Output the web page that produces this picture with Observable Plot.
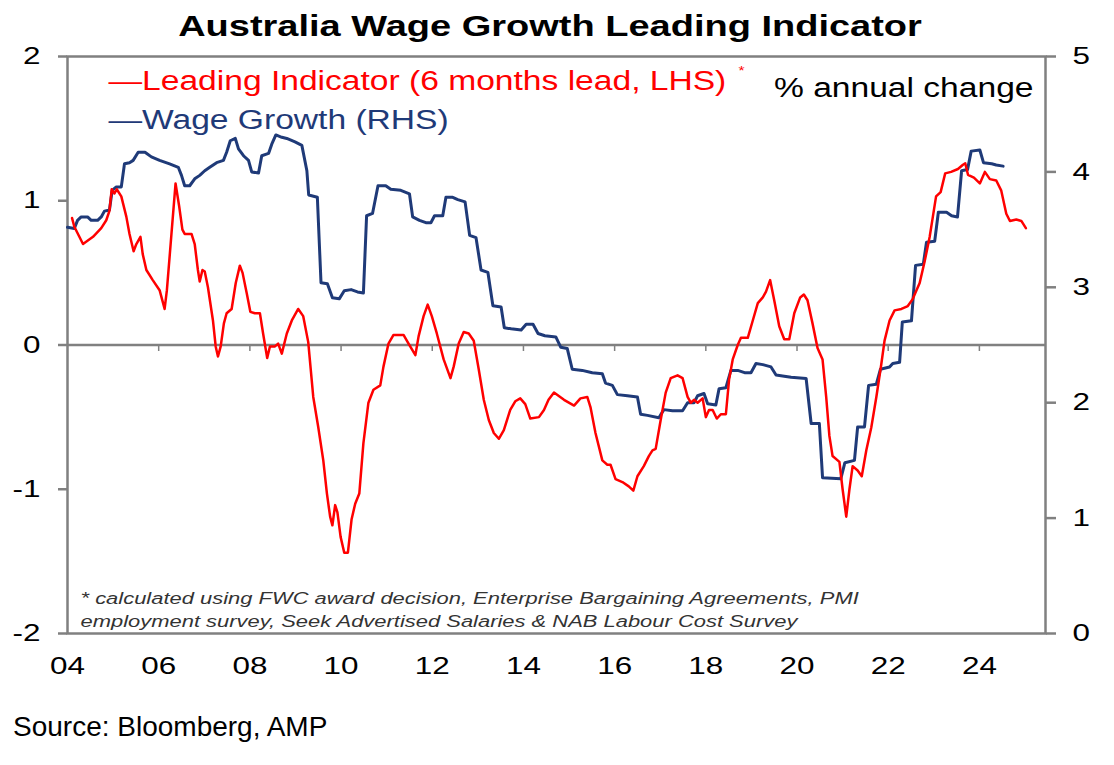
<!DOCTYPE html>
<html>
<head>
<meta charset="utf-8">
<script src="https://cdn.jsdelivr.net/npm/d3@7"></script>
<script src="https://cdn.jsdelivr.net/npm/@observablehq/plot@0.6"></script>
<style>
  body { margin: 0; background: #fff; width: 1114px; height: 765px; overflow: hidden;
         font-family: "Liberation Sans", Arial, sans-serif; }
  #title { position: relative; height: 40px; }
  #title span { position: absolute; left: -7px; width: 1114px; top: 12px; line-height: 29px;
                text-align: center; font-weight: bold; font-size: 29px; color: #000;
                transform: scaleX(1.31); transform-origin: 557px 0; white-space: nowrap; }
  #chart svg { display: block; overflow: visible; }
  #source { margin-top: 28px; padding-left: 13px; font-size: 28px; line-height: 28px; color: #000; }
</style>
</head>
<body>
<div id="title"><span>Australia Wage Growth Leading Indicator</span></div>
<div id="chart"></div>
<div id="source">Source: Bloomberg, AMP</div>
<script>
// ---- data (decimal years) ----
const leadYears = [2004.10,2004.15,2004.34,2004.56,2004.74,2004.85,2004.92,2004.97,2005.03,2005.08,2005.18,2005.29,2005.36,2005.45,2005.51,2005.60,2005.65,2005.73,2005.87,2006.02,2006.13,2006.18,2006.28,2006.37,2006.45,2006.52,2006.57,2006.72,2006.79,2006.86,2006.90,2006.96,2007.01,2007.08,2007.19,2007.25,2007.30,2007.36,2007.43,2007.49,2007.60,2007.69,2007.78,2007.84,2007.93,2008.01,2008.11,2008.22,2008.29,2008.38,2008.44,2008.55,2008.62,2008.70,2008.81,2008.92,2009.06,2009.17,2009.28,2009.39,2009.50,2009.61,2009.69,2009.76,2009.81,2009.87,2009.92,2009.99,2010.07,2010.15,2010.23,2010.31,2010.40,2010.49,2010.60,2010.71,2010.86,2010.93,2011.04,2011.15,2011.37,2011.48,2011.63,2011.70,2011.81,2011.90,2011.99,2012.10,2012.25,2012.40,2012.47,2012.58,2012.69,2012.80,2012.91,2013.02,2013.13,2013.24,2013.35,2013.46,2013.57,2013.71,2013.82,2013.93,2014.04,2014.15,2014.34,2014.45,2014.55,2014.67,2014.89,2015.11,2015.25,2015.40,2015.47,2015.58,2015.73,2015.84,2015.91,2016.02,2016.17,2016.31,2016.41,2016.50,2016.64,2016.75,2016.83,2016.90,2017.01,2017.12,2017.23,2017.38,2017.49,2017.60,2017.67,2017.74,2017.82,2017.93,2018.00,2018.07,2018.15,2018.24,2018.33,2018.44,2018.51,2018.59,2018.70,2018.77,2018.92,2019.03,2019.14,2019.25,2019.32,2019.41,2019.50,2019.61,2019.72,2019.83,2019.94,2020.07,2020.15,2020.23,2020.34,2020.45,2020.56,2020.64,2020.71,2020.78,2020.93,2021.00,2021.08,2021.15,2021.22,2021.33,2021.42,2021.52,2021.63,2021.74,2021.85,2021.92,2022.03,2022.14,2022.29,2022.43,2022.54,2022.69,2022.80,2022.91,2022.98,2023.05,2023.15,2023.25,2023.38,2023.53,2023.64,2023.69,2023.75,2023.88,2024.01,2024.12,2024.23,2024.37,2024.48,2024.59,2024.67,2024.81,2024.92,2025.02];
const leadValues = [0.88,0.82,0.70,0.75,0.81,0.865,0.93,1.08,1.05,1.08,1.03,0.89,0.77,0.65,0.70,0.75,0.63,0.52,0.45,0.38,0.25,0.38,0.77,1.12,0.96,0.80,0.77,0.77,0.70,0.52,0.44,0.52,0.51,0.40,0.17,-0.01,-0.08,-0.01,0.15,0.22,0.25,0.43,0.55,0.50,0.36,0.23,0.22,0.22,0.08,-0.09,-0.01,-0.01,0.01,-0.06,0.08,0.17,0.25,0.20,0.02,-0.36,-0.57,-0.80,-1.03,-1.19,-1.25,-1.11,-1.16,-1.33,-1.44,-1.44,-1.21,-1.10,-1.03,-0.68,-0.40,-0.31,-0.28,-0.15,0.01,0.07,0.07,0.01,-0.07,0.06,0.20,0.28,0.20,0.08,-0.10,-0.23,-0.15,0.01,0.09,0.08,0.03,-0.17,-0.38,-0.52,-0.61,-0.65,-0.59,-0.45,-0.39,-0.37,-0.41,-0.51,-0.50,-0.45,-0.38,-0.33,-0.38,-0.42,-0.37,-0.36,-0.43,-0.61,-0.80,-0.83,-0.83,-0.93,-0.95,-0.98,-1.01,-0.91,-0.84,-0.77,-0.73,-0.72,-0.52,-0.33,-0.23,-0.21,-0.23,-0.36,-0.40,-0.38,-0.40,-0.37,-0.50,-0.45,-0.45,-0.51,-0.48,-0.48,-0.24,-0.10,0.00,0.05,0.05,0.17,0.29,0.33,0.37,0.45,0.31,0.13,0.04,0.04,0.22,0.33,0.35,0.31,0.15,-0.02,-0.10,-0.36,-0.63,-0.77,-0.81,-1.00,-1.19,-1.00,-0.84,-0.87,-0.91,-0.73,-0.57,-0.36,-0.13,0.03,0.17,0.24,0.25,0.27,0.32,0.43,0.58,0.75,0.89,1.03,1.06,1.19,1.20,1.22,1.25,1.26,1.18,1.16,1.12,1.20,1.15,1.14,1.07,0.91,0.86,0.87,0.86,0.81];

const wageYears = [2004.00,2004.15,2004.22,2004.30,2004.44,2004.52,2004.66,2004.74,2004.81,2004.92,2004.98,2005.07,2005.18,2005.25,2005.36,2005.44,2005.55,2005.70,2005.84,2006.02,2006.24,2006.43,2006.50,2006.57,2006.68,2006.79,2006.90,2007.01,2007.12,2007.27,2007.42,2007.49,2007.57,2007.68,2007.75,2007.86,2007.97,2008.04,2008.19,2008.26,2008.41,2008.48,2008.57,2008.70,2008.81,2008.99,2009.14,2009.25,2009.29,2009.48,2009.56,2009.70,2009.81,2009.96,2010.07,2010.22,2010.36,2010.49,2010.56,2010.69,2010.81,2010.98,2011.09,2011.31,2011.50,2011.57,2011.72,2011.86,2011.97,2012.05,2012.23,2012.30,2012.45,2012.56,2012.72,2012.82,2012.96,2013.07,2013.22,2013.33,2013.51,2013.58,2013.73,2013.95,2014.06,2014.21,2014.32,2014.47,2014.71,2014.82,2014.96,2015.07,2015.29,2015.51,2015.73,2015.80,2015.95,2016.06,2016.28,2016.50,2016.57,2016.72,2016.97,2017.08,2017.27,2017.49,2017.60,2017.74,2017.82,2017.96,2018.04,2018.22,2018.29,2018.44,2018.55,2018.70,2018.85,2018.99,2019.10,2019.25,2019.43,2019.54,2019.72,2019.87,2020.20,2020.31,2020.49,2020.56,2020.96,2021.05,2021.26,2021.33,2021.48,2021.57,2021.74,2021.83,2022.03,2022.10,2022.25,2022.31,2022.51,2022.60,2022.77,2022.84,2023.02,2023.10,2023.28,2023.39,2023.52,2023.61,2023.74,2023.82,2024.01,2024.09,2024.27,2024.37,2024.52];
const wageValues = [3.52,3.51,3.58,3.61,3.61,3.58,3.58,3.61,3.66,3.67,3.84,3.87,3.87,4.07,4.08,4.10,4.17,4.17,4.13,4.10,4.07,4.04,3.97,3.88,3.88,3.94,3.97,4.01,4.04,4.08,4.10,4.17,4.27,4.29,4.20,4.14,4.10,4.00,3.99,4.14,4.16,4.24,4.32,4.30,4.29,4.26,4.23,4.01,3.80,3.78,3.04,3.03,2.91,2.90,2.97,2.98,2.96,2.95,3.62,3.64,3.88,3.88,3.85,3.84,3.81,3.61,3.58,3.56,3.56,3.62,3.62,3.78,3.78,3.76,3.74,3.45,3.43,3.15,3.13,2.84,2.83,2.65,2.64,2.63,2.68,2.68,2.60,2.58,2.57,2.48,2.47,2.29,2.28,2.26,2.25,2.17,2.15,2.07,2.06,2.05,1.90,1.89,1.87,1.94,1.93,1.93,2.00,2.00,2.06,2.08,1.99,1.98,2.12,2.13,2.28,2.28,2.26,2.26,2.34,2.33,2.31,2.24,2.23,2.22,2.21,1.82,1.82,1.35,1.34,1.48,1.50,1.79,1.79,2.15,2.16,2.29,2.31,2.34,2.35,2.70,2.71,3.19,3.20,3.39,3.40,3.65,3.65,3.62,3.61,4.01,4.02,4.18,4.19,4.08,4.07,4.06,4.05];

const xTickYears = [2004,2006,2008,2010,2012,2014,2016,2018,2020,2022,2024];
const leftTicks = [-2,-1,0,1,2];
const rightTicks = [0,1,2,3,4,5];
const seriesNames = ["Leading Indicator (6 months lead, LHS)", "Wage Growth (RHS)"];
const unitLabel = "% annual change";
const footnote = "* calculated using FWC award decision, Enterprise Bargaining Agreements, PMI\nemployment survey, Seek Advertised Salaries & NAB Labour Cost Survey";

const RED = "#ff0000";
const NAVY = "#1f3a78";
const GRID = "#808080";

// right axis (0..5) mapped onto the left axis (-2..2)
const toLeft = v => v * 0.8 - 2;
const fromLeft = v => (v + 2) / 0.8;

const lead = leadYears.map((t, i) => ({t, v: leadValues[i]}));
const wage = wageYears.map((t, i) => ({t, v: toLeft(wageValues[i])}));

const chart = Plot.plot({
  width: 1114,
  height: 645,
  marginLeft: 67,
  marginRight: 69,
  marginTop: 16,
  marginBottom: 52,
  x: {domain: [2004, 2025.45]},
  y: {domain: [-2, 2]},
  style: {fontFamily: "'Liberation Sans', Arial, sans-serif", fontSize: "24px", color: "#000", background: "#fff", overflow: "visible"},
  marks: [
    Plot.ruleY([0], {stroke: GRID, strokeWidth: 2.5}),
    Plot.ruleX(xTickYears.slice(1), {y1: 0, y2: -0.045, stroke: GRID, strokeWidth: 1.5}),
    Plot.frame({stroke: GRID, strokeWidth: 2.5}),
    Plot.axisY(leftTicks, {anchor: "left", tickSize: 9, tickPadding: 18, stroke: GRID, strokeWidth: 2.5, label: null, tickFormat: d => String(d)}),
    Plot.axisY(rightTicks.map(toLeft), {anchor: "right", tickSize: 10, tickPadding: 17, stroke: GRID, strokeWidth: 2.5, label: null, tickFormat: d => String(Math.round(fromLeft(d)))}),
    Plot.axisX(xTickYears, {anchor: "bottom", tickSize: 0, tickPadding: 23, label: null, tickFormat: d => String(d).slice(2)}),
    Plot.line(wage, {x: "t", y: "v", stroke: NAVY, strokeWidth: 3}),
    Plot.line(lead, {x: "t", y: "v", stroke: RED, strokeWidth: 2.5}),
    Plot.text(["\u2014" + seriesNames[0]], {frameAnchor: "top-left", dx: 41, dy: 25, lineAnchor: "middle", textAnchor: "start", fill: RED, fontSize: 28}),
    Plot.text(["*"], {frameAnchor: "top-left", dx: 671, dy: 14, lineAnchor: "middle", textAnchor: "start", fill: RED, fontSize: 13}),
    Plot.text(["\u2014" + seriesNames[1]], {frameAnchor: "top-left", dx: 41, dy: 64, lineAnchor: "middle", textAnchor: "start", fill: NAVY, fontSize: 28}),
    Plot.text([unitLabel], {frameAnchor: "top-right", dx: -12, dy: 32, lineAnchor: "middle", textAnchor: "end", fill: "#000", fontSize: 28}),
    Plot.text([footnote], {frameAnchor: "top-left", dx: 13, dy: 531, lineAnchor: "top", textAnchor: "start", fill: "#333", fontSize: 16.5, fontStyle: "italic", lineHeight: 1.4})
  ]
});

document.getElementById("chart").appendChild(chart);

// horizontal stretch of texts about their anchors (the reference image is stretched sideways)
function stretchText(t, k) {
  const tr = t.getAttribute("transform") || "";
  t.setAttribute("transform", tr + ` scale(${k},1)`);
}
chart.querySelectorAll('g[aria-label="y-axis tick label"] text, g[aria-label="x-axis tick label"] text')
  .forEach(t => stretchText(t, 1.31));
chart.querySelectorAll('g[aria-label="text"]').forEach(g => {
  const k = g.getAttribute("font-style") === "italic" ? 1.33 : 1.2;
  g.querySelectorAll("text").forEach(t => stretchText(t, k));
});
</script>
</body>
</html>
